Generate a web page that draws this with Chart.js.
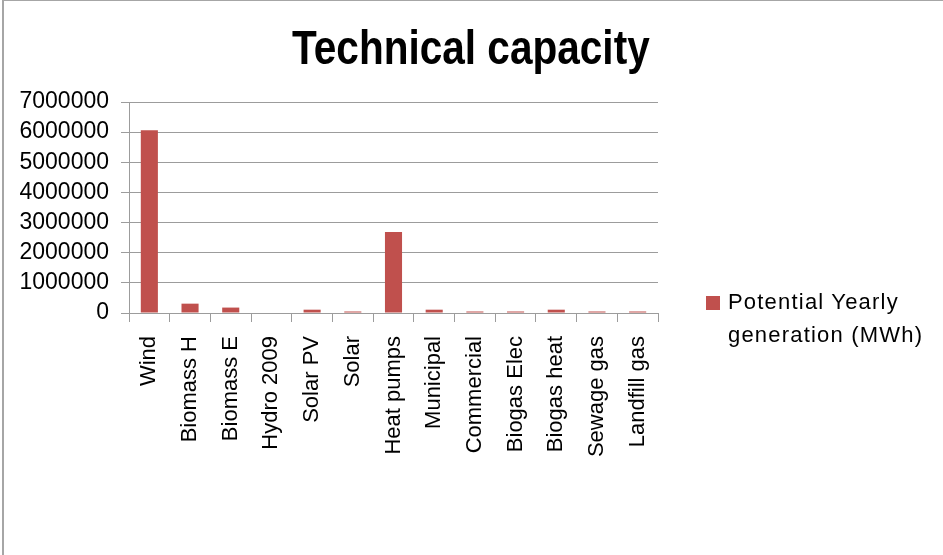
<!DOCTYPE html>
<html>
<head>
<meta charset="utf-8">
<script src="https://cdn.jsdelivr.net/npm/chart.js@4.4.1/dist/chart.umd.min.js"></script>
<style>
  body { margin: 0; background: #fff; }
  #wrap { position: relative; width: 943px; height: 555px; overflow: hidden; }
  #frame { position: absolute; left: 2px; top: 0; width: 941px; height: 555px;
           border-left: 2px solid #a6a6a6; border-top: 1px solid #a6a6a6; box-sizing: border-box; pointer-events: none; }
  #title { position: absolute; left: 292px; top: 24px; white-space: nowrap;
           font: bold 48px/48px "Liberation Sans", Arial, sans-serif; color: #000;
           transform: scaleX(0.845); transform-origin: left top; }
  #legend { position: absolute; left: 706px; top: 285px; font: 22px/33px "Liberation Sans", Arial, sans-serif;
            letter-spacing: 1.2px; color: #000; }
  #legend .box { position: absolute; left: 0; top: 11px; width: 14px; height: 14px; background: #c0504d; }
  #legend .text { margin-left: 22px; white-space: nowrap; }
</style>
</head>
<body>
<div id="wrap">
  <canvas id="chart" width="943" height="555"></canvas>
  <div id="title">Technical capacity</div>
  <div id="legend"><span class="box"></span><div class="text" id="legend-text"></div></div>
  <div id="frame"></div>
</div>
<script>
// categories along the x axis
const categories = ['Wind', 'Biomass H', 'Biomass E', 'Hydro 2009', 'Solar PV', 'Solar',
  'Heat pumps', 'Municipal', 'Commercial', 'Biogas Elec', 'Biogas heat', 'Sewage gas', 'Landfill gas'];
// Potential Yearly generation (MWh)
const generation = [6060000, 310000, 180000, 0, 110000, 50000,
  2690000, 110000, 50000, 50000, 110000, 50000, 50000];
const yTicks = [0, 1000000, 2000000, 3000000, 4000000, 5000000, 6000000, 7000000];
const seriesLabel = ['Potential Yearly', 'generation (MWh)'];

const font = 'Liberation Sans, Arial, sans-serif';
const gridColor = '#9c9c9c';
const barColor = '#c0504d';

// legend is plain html so it can sit where the original one sits
document.getElementById('legend-text').innerHTML = seriesLabel.join('<br>');

new Chart(document.getElementById('chart').getContext('2d'), {
  type: 'bar',
  data: {
    labels: categories,
    datasets: [{
      label: seriesLabel.join(' '),
      data: generation,
      backgroundColor: barColor,
      barPercentage: 0.42,
      categoryPercentage: 1
    }]
  },
  options: {
    responsive: false,
    animation: false,
    layout: { padding: { left: 0, right: 285, top: 102, bottom: 0 } },
    plugins: {
      title: { display: false },
      legend: { display: false },
      tooltip: { enabled: false }
    },
    scales: {
      x: {
        grid: { drawOnChartArea: false, drawTicks: true, tickLength: 9, color: gridColor },
        border: { color: gridColor },
        ticks: { color: '#000', font: { family: font, size: 22 }, minRotation: 90, maxRotation: 90, padding: 14 },
        afterFit: scale => { scale.height = 242 }
      },
      y: {
        min: 0,
        max: 7000000,
        afterBuildTicks: scale => { scale.ticks = yTicks.map(v => ({ value: v })) },
        grid: { color: gridColor, tickLength: 8 },
        border: { color: gridColor },
        ticks: { color: '#000', font: { family: font, size: 23 }, padding: 12, autoSkip: false,
                 callback: value => String(value) },  // no thousands separators
        afterFit: scale => { scale.width = 129 }
      }
    }
  }
});
</script>
</body>
</html>
